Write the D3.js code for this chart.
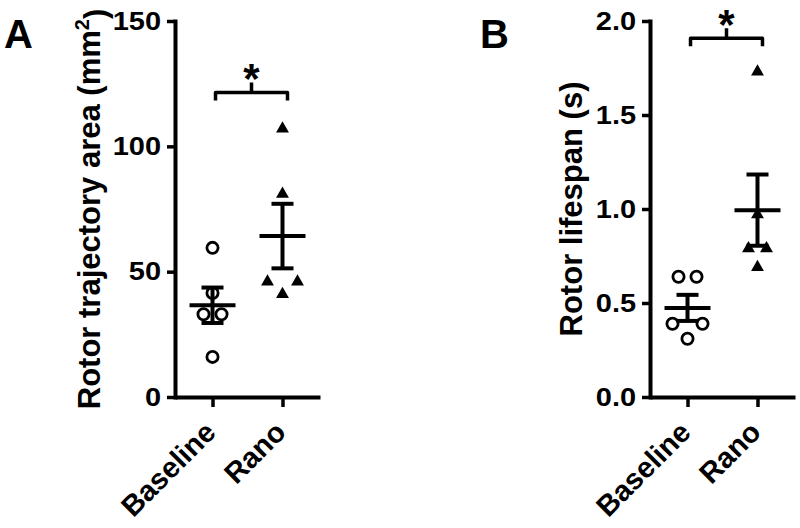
<!DOCTYPE html>
<html>
<head>
<meta charset="utf-8">
<script src="https://cdn.jsdelivr.net/npm/d3@7"></script>
<style>
  body { margin: 0; background: #fff; }
  text { font-family: "Liberation Sans", Arial, sans-serif; font-weight: bold; fill: #000; }
</style>
</head>
<body>
<script>

var width = 800, height = 528;

// groups on the x axis
var groups = ["Baseline", "Rano"];

// panel A: rotor trajectory area (mm2)
var areaBaseline = [59.5, 41.5, 33, 33, 16];
var areaRano = [107, 81, 46, 46, 41];
var areaTicks = [0, 50, 100, 150];

// panel B: rotor lifespan (s)
var lifeBaseline = [0.64, 0.64, 0.39, 0.39, 0.31];
var lifeRano = [1.73, 0.97, 0.79, 0.79, 0.69];
var lifeTicks = [0, 0.5, 1.0, 1.5, 2.0];

// significance bracket heights (data units)
var areaBracket = 121.5;
var lifeBracket = 1.908;

var svg = d3.select("body").append("svg")
    .attr("width", width)
    .attr("height", height);

function sem(v) {
    return d3.deviation(v) / Math.sqrt(v.length);
}

// spread identical values sideways, like prism does
function dodge(vals, y) {
    var off = vals.map(function () { return 0; });
    vals.forEach(function (v, i) {
        var same = [];
        vals.forEach(function (w, j) { if (w === v) same.push(j); });
        if (same.length < 2) return;
        var crowded = vals.some(function (w) {
            return w !== v && Math.abs(y(w) - y(v)) < 16;
        });
        var gap = crowded ? 30 : 18;
        var k = same.indexOf(i);
        off[i] = (k - (same.length - 1) / 2) * gap;
    });
    return off;
}

function panel(opt) {
    var g = svg.append("g");

    var y = d3.scaleLinear().domain(opt.domain).range([397, 21]);
    var x = d3.scalePoint().domain(groups).range([opt.left, opt.left + 145]).padding(0.536);

    // y axis
    var ya = g.append("g")
        .attr("transform", "translate(" + opt.left + ",0)")
        .call(d3.axisLeft(y).tickValues(opt.ticks).tickFormat(opt.fmt).tickSize(8).tickSizeOuter(0).tickPadding(4));
    ya.select(".domain").attr("stroke-width", 4).attr("stroke-linecap", "square");
    ya.selectAll(".tick line").attr("stroke-width", 3.5);
    // prism's tick digits come out wide
    ya.selectAll(".tick text")
        .style("font-size", "25px")
        .attr("fill", "#000")
        .attr("transform", "scale(1.16,1)");

    // x axis
    var xa = g.append("g")
        .attr("transform", "translate(0,397)")
        .call(d3.axisBottom(x).tickSize(10).tickSizeOuter(0));
    xa.select(".domain").attr("stroke-width", 4);
    xa.selectAll(".tick line").attr("stroke-width", 3.5);
    xa.selectAll(".tick text").remove();

    g.selectAll(".xlab")
        .data(groups)
        .enter().append("text")
        .attr("class", "xlab")
        .attr("text-anchor", "end")
        .style("font-size", "29px")
        .attr("transform", function (d) {
            return "translate(" + (x(d) + 5) + ",434) rotate(-45)";
        })
        .text(function (d) { return d; });

    // y label
    var yl = g.append("text")
        .attr("text-anchor", "middle")
        .style("font-size", "31px")
        .attr("transform", "translate(" + opt.labelX + ",209) rotate(-90)");
    yl.append("tspan").text(opt.label);
    if (opt.sup) {
        yl.append("tspan").attr("dy", "-0.55em").style("font-size", "20px").text(opt.sup);
        yl.append("tspan").attr("dy", "0.55em").text(opt.after);
    }

    // panel letter
    g.append("text")
        .attr("x", opt.letterX).attr("y", 48)
        .style("font-size", "40px")
        .text(opt.letter);

    // points
    opt.series.forEach(function (vals, si) {
        var cx = x(groups[si]);
        var off = dodge(vals, y);
        var pts = g.append("g");
        if (si === 0) {
            pts.selectAll("circle")
                .data(vals)
                .enter().append("circle")
                .attr("cx", function (d, i) { return cx + off[i]; })
                .attr("cy", function (d) { return y(d); })
                .attr("r", 5.6)
                .attr("fill", "#fff")
                .attr("stroke", "#000")
                .attr("stroke-width", 2.8);
        } else {
            pts.selectAll("path")
                .data(vals)
                .enter().append("path")
                .attr("d", d3.symbol().type(d3.symbolTriangle).size(72))
                .attr("transform", function (d, i) {
                    return "translate(" + (cx + off[i]) + "," + y(d) + ")";
                })
                .attr("fill", "#000");
        }
    });

    // mean +- sem
    opt.series.forEach(function (vals, si) {
        var cx = x(groups[si]);
        var m = d3.mean(vals), s = sem(vals);
        var eb = g.append("g").attr("stroke", "#000").attr("stroke-width", 4);
        eb.append("line").attr("x1", cx).attr("x2", cx).attr("y1", y(m - s)).attr("y2", y(m + s));
        eb.append("line").attr("x1", cx - 23).attr("x2", cx + 23).attr("y1", y(m)).attr("y2", y(m));
        eb.append("line").attr("x1", cx - 11).attr("x2", cx + 11).attr("y1", y(m + s)).attr("y2", y(m + s));
        eb.append("line").attr("x1", cx - 11).attr("x2", cx + 11).attr("y1", y(m - s)).attr("y2", y(m - s));
    });

    // significance bracket
    var by = y(opt.bracket);
    var x1 = x(groups[0]) + 3, x2 = x(groups[1]) + 5, xm = (x1 + x2) / 2;
    g.append("path")
        .attr("d", "M" + x1 + "," + (by + 8) + "L" + x1 + "," + by + "L" + x2 + "," + by + "L" + x2 + "," + (by + 8) +
                   "M" + xm + "," + by + "L" + xm + "," + (by - 10))
        .attr("fill", "none")
        .attr("stroke", "#000")
        .attr("stroke-width", 3.5)
        .attr("stroke-linejoin", "round");
    g.append("text")
        .attr("x", xm).attr("y", by + 1)
        .attr("text-anchor", "middle")
        .style("font-size", "42px")
        .text("*");
}

panel({
    left: 175, domain: [0, 150], ticks: areaTicks, fmt: d3.format("d"),
    series: [areaBaseline, areaRano], bracket: areaBracket,
    label: "Rotor trajectory area (mm", sup: "2", after: ")", labelX: 100,
    letter: "A", letterX: 4
});

panel({
    left: 650, domain: [0, 2], ticks: lifeTicks, fmt: d3.format(".1f"),
    series: [lifeBaseline, lifeRano], bracket: lifeBracket,
    label: "Rotor lifespan (s)", labelX: 582,
    letter: "B", letterX: 480
});

</script>
</body>
</html>
